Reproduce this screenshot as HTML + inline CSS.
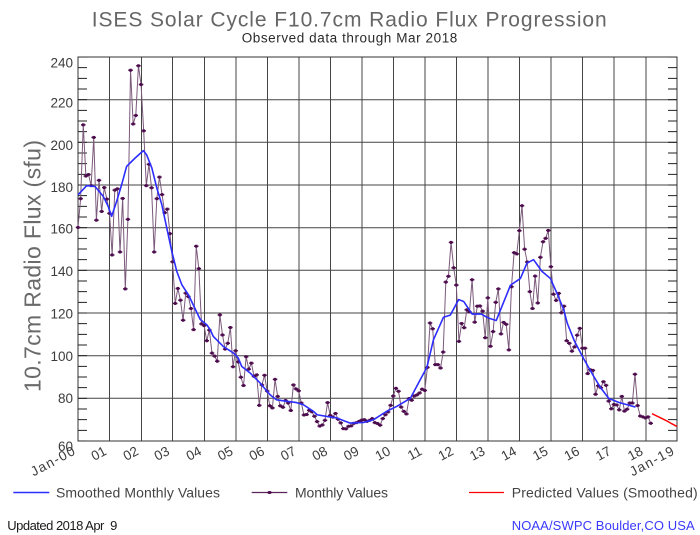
<!DOCTYPE html>
<html><head><meta charset="utf-8"><style>
html,body{margin:0;padding:0;background:#fff;}
svg{display:block;}
text{font-family:"Liberation Sans",Arial,sans-serif;}
</style></head><body>
<svg width="700" height="535" viewBox="0 0 700 535" xmlns="http://www.w3.org/2000/svg">
<rect width="700" height="535" fill="#fff"/>
<defs>
<marker id="mk" markerUnits="userSpaceOnUse" markerWidth="4" markerHeight="4" refX="0" refY="0" overflow="visible">
<rect x="-0.856" y="-0.352" width="1.713" height="0.703" fill="#4d0c4d"/>
<rect x="-0.476" y="-0.703" width="0.952" height="1.406" fill="#4d0c4d"/>
</marker>
</defs>

<!-- titles -->
<text x="91.7" y="26.7" font-size="21" fill="#666" textLength="515" lengthAdjust="spacing">ISES Solar Cycle F10.7cm Radio Flux Progression</text>
<text x="241.7" y="42.3" font-size="13.5" fill="#2a2a2a" textLength="215.6" lengthAdjust="spacing">Observed data through Mar 2018</text>

<!-- grid -->
<g stroke="#444" stroke-width="1" fill="none">
<path d="M109.5 57V441M141.5 57V441M172.5 57V441M204.5 57V441M236 57V441M267.5 57V441M299 57V441M330.5 57V441M362 57V441M393.5 57V441M425 57V441M456.5 57V441M488 57V441M519.5 57V441M551 57V441M582.5 57V441M614 57V441M646 57V441"/>
<path d="M78 99.7H677M78 142.3H677M78 185H677M78 227.7H677M78 270.3H677M78 313H677M78 355.7H677M78 398.3H677"/>
<rect x="78" y="57" width="599" height="384" stroke="#333"/>
</g>
<!-- minor ticks -->
<line x1="82.5" y1="441" x2="82.5" y2="57" stroke="#222" stroke-width="9" stroke-dasharray="1 9.6667" stroke-dashoffset="0.5"/>
<line x1="672.5" y1="441" x2="672.5" y2="57" stroke="#222" stroke-width="9" stroke-dasharray="1 9.6667" stroke-dashoffset="0.5"/>

<!-- y tick labels -->
<g font-size="13.5" fill="#3c3c3c" text-anchor="end">
<text x="73" y="67.3">240</text>
<text x="73" y="107.3">220</text>
<text x="73" y="149.8">200</text>
<text x="73" y="191.8">180</text>
<text x="73" y="233.5">160</text>
<text x="73" y="276">140</text>
<text x="73" y="318.6">120</text>
<text x="73" y="360.8">100</text>
<text x="73" y="403">80</text>
<text x="73" y="450.8">60</text>
</g>

<!-- y axis title -->
<text transform="translate(40.5,266) rotate(-90)" text-anchor="middle" font-size="23" fill="#6a6a6a" textLength="252" lengthAdjust="spacing">10.7cm Radio Flux (sfu)</text>

<!-- x tick labels -->
<g font-size="13.5" fill="#3c3c3c" text-anchor="end">
<text transform="translate(76,454) rotate(-28)" textLength="48" lengthAdjust="spacing">Jan-00</text>
<text transform="translate(107.5,454) rotate(-28)">01</text>
<text transform="translate(139.5,454) rotate(-28)">02</text>
<text transform="translate(170.5,454) rotate(-28)">03</text>
<text transform="translate(202.5,454) rotate(-28)">04</text>
<text transform="translate(234,454) rotate(-28)">05</text>
<text transform="translate(265.5,454) rotate(-28)">06</text>
<text transform="translate(297,454) rotate(-28)">07</text>
<text transform="translate(328.5,454) rotate(-28)">08</text>
<text transform="translate(360,454) rotate(-28)">09</text>
<text transform="translate(391.5,454) rotate(-28)">10</text>
<text transform="translate(423,454) rotate(-28)">11</text>
<text transform="translate(454.5,454) rotate(-28)">12</text>
<text transform="translate(486,454) rotate(-28)">13</text>
<text transform="translate(517.5,454) rotate(-28)">14</text>
<text transform="translate(549,454) rotate(-28)">15</text>
<text transform="translate(580.5,454) rotate(-28)">16</text>
<text transform="translate(612,454) rotate(-28)">17</text>
<text transform="translate(644,454) rotate(-28)">18</text>
<text transform="translate(675,454) rotate(-28)" textLength="48" lengthAdjust="spacing">Jan-19</text>
</g>

<!-- data series -->
<g transform="translate(78,441) scale(2.6272,-2.1333) translate(0,-60)">
<polyline fill="none" stroke="#7b5a7b" stroke-width="1" vector-effect="non-scaling-stroke" points="0,160.1 1,173.6 2,208.2 3,184.2 4,184.9 5,179.7 6,202.3 7,163.5 8,182.2 9,167.6 10,178.8 11,173.4 12,166.7 13,147.2 14,177.6 15,178.2 16,148.6 17,173.7 18,131.3 19,163.9 20,233.8 21,208.6 22,212.6 23,235.9 24,227.1 25,205.4 26,179.7 27,189.7 28,178.7 29,148.6 30,173.6 31,183.7 32,175.5 33,167.0 34,168.7 35,157.2 36,144.0 37,124.5 38,131.5 39,126.0 40,116.6 41,129.3 42,127.7 43,122.1 44,112.2 45,151.3 46,140.8 47,114.9 48,114.1 49,107.0 50,112.0 51,101.2 52,99.8 53,97.4 54,119.1 55,109.7 56,103.1 57,105.8 58,113.2 59,94.8 60,102.3 61,97.1 62,89.9 63,86.0 64,99.5 65,93.7 66,96.5 67,90.3 68,91.0 69,76.7 70,86.3 71,90.8 72,83.4 73,76.5 74,75.5 75,88.9 76,80.9 77,76.5 78,75.8 79,79.0 80,77.8 81,74.3 82,86.3 83,84.4 84,83.5 85,77.8 86,72.2 87,72.4 88,74.4 89,73.7 90,71.6 91,69.1 92,67.0 93,67.5 94,69.7 95,78.0 96,72.0 97,71.2 98,72.9 99,70.2 100,68.5 101,65.8 102,65.7 103,66.9 104,67.1 105,68.3 106,68.6 107,69.2 108,69.8 109,70.0 110,69.2 111,69.7 112,70.5 113,68.6 114,68.2 115,67.4 116,70.5 117,72.3 118,73.6 119,76.7 120,81.1 121,84.7 122,83.3 123,75.9 124,73.9 125,72.7 126,79.9 127,79.1 128,81.1 129,81.6 130,82.5 131,84.3 132,83.7 133,94.5 134,115.3 135,112.6 136,95.8 137,95.8 138,94.2 139,101.7 140,134.5 141,137.2 142,153.1 143,141.2 144,133.1 145,106.7 146,115.1 147,113.1 148,121.5 149,120.5 150,135.6 151,115.7 152,123.2 153,123.3 154,120.9 155,108.4 156,127.1 157,104.4 158,111.3 159,125.0 160,131.3 161,110.2 162,115.6 163,114.7 164,102.7 165,132.3 166,148.3 167,147.7 168,158.6 169,170.3 170,149.9 171,143.9 172,130.0 173,122.1 174,137.3 175,124.7 176,146.1 177,153.4 178,155.0 179,158.7 180,141.7 181,128.8 182,125.9 183,129.2 184,120.1 185,123.2 186,107.0 187,105.8 188,102.1 189,104.1 190,109.6 191,112.8 192,103.5 193,103.5 194,91.6 195,93.4 196,93.1 197,81.9 198,85.9 199,85.0 200,87.8 201,86.1 202,78.7 203,75.1 204,77.1 205,76.9 206,74.6 207,80.9 208,74.0 209,74.9 210,77.8 211,77.8 212,91.3 213,76.6 214,71.7 215,71.3 216,70.8 217,71.3 218,68.3"/>
<polyline fill="none" stroke="none" marker-start="url(#mk)" marker-mid="url(#mk)" marker-end="url(#mk)" points="0,160.1 1,173.6 2,208.2 3,184.2 4,184.9 5,179.7 6,202.3 7,163.5 8,182.2 9,167.6 10,178.8 11,173.4 12,166.7 13,147.2 14,177.6 15,178.2 16,148.6 17,173.7 18,131.3 19,163.9 20,233.8 21,208.6 22,212.6 23,235.9 24,227.1 25,205.4 26,179.7 27,189.7 28,178.7 29,148.6 30,173.6 31,183.7 32,175.5 33,167.0 34,168.7 35,157.2 36,144.0 37,124.5 38,131.5 39,126.0 40,116.6 41,129.3 42,127.7 43,122.1 44,112.2 45,151.3 46,140.8 47,114.9 48,114.1 49,107.0 50,112.0 51,101.2 52,99.8 53,97.4 54,119.1 55,109.7 56,103.1 57,105.8 58,113.2 59,94.8 60,102.3 61,97.1 62,89.9 63,86.0 64,99.5 65,93.7 66,96.5 67,90.3 68,91.0 69,76.7 70,86.3 71,90.8 72,83.4 73,76.5 74,75.5 75,88.9 76,80.9 77,76.5 78,75.8 79,79.0 80,77.8 81,74.3 82,86.3 83,84.4 84,83.5 85,77.8 86,72.2 87,72.4 88,74.4 89,73.7 90,71.6 91,69.1 92,67.0 93,67.5 94,69.7 95,78.0 96,72.0 97,71.2 98,72.9 99,70.2 100,68.5 101,65.8 102,65.7 103,66.9 104,67.1 105,68.3 106,68.6 107,69.2 108,69.8 109,70.0 110,69.2 111,69.7 112,70.5 113,68.6 114,68.2 115,67.4 116,70.5 117,72.3 118,73.6 119,76.7 120,81.1 121,84.7 122,83.3 123,75.9 124,73.9 125,72.7 126,79.9 127,79.1 128,81.1 129,81.6 130,82.5 131,84.3 132,83.7 133,94.5 134,115.3 135,112.6 136,95.8 137,95.8 138,94.2 139,101.7 140,134.5 141,137.2 142,153.1 143,141.2 144,133.1 145,106.7 146,115.1 147,113.1 148,121.5 149,120.5 150,135.6 151,115.7 152,123.2 153,123.3 154,120.9 155,108.4 156,127.1 157,104.4 158,111.3 159,125.0 160,131.3 161,110.2 162,115.6 163,114.7 164,102.7 165,132.3 166,148.3 167,147.7 168,158.6 169,170.3 170,149.9 171,143.9 172,130.0 173,122.1 174,137.3 175,124.7 176,146.1 177,153.4 178,155.0 179,158.7 180,141.7 181,128.8 182,125.9 183,129.2 184,120.1 185,123.2 186,107.0 187,105.8 188,102.1 189,104.1 190,109.6 191,112.8 192,103.5 193,103.5 194,91.6 195,93.4 196,93.1 197,81.9 198,85.9 199,85.0 200,87.8 201,86.1 202,78.7 203,75.1 204,77.1 205,76.9 206,74.6 207,80.9 208,74.0 209,74.9 210,77.8 211,77.8 212,91.3 213,76.6 214,71.7 215,71.3 216,70.8 217,71.3 218,68.3"/>
<polyline fill="none" stroke="#2d2dff" stroke-width="1.6" stroke-linejoin="round" vector-effect="non-scaling-stroke" points="0,175.4 3.3,179.7 6.5,179.3 9.6,174.7 11.5,170 12.8,165.3 14.7,172.3 16.6,180.1 18.5,188.7 21.7,192.6 24.9,196.1 26.1,194.2 28.1,188 30,178.6 31.9,170.8 33.8,159.8 35.7,148.9 37.6,139.5 39.5,133.3 42,128.6 46.5,117 49,114.5 50.3,112.2 51.5,109 55.3,104.3 59.2,101.2 61,98.9 62.3,95 65.5,91.9 69.3,87.2 73.1,81.7 75.6,79.3 79.5,78.6 83.2,78 85.8,77 89.6,73.9 91,72.3 94.7,71.5 98.5,70.8 103.6,68.4 108.7,68.7 112.5,70 117.6,74 121.3,76.2 126.5,80 129.6,87.2 132.8,94.5 135.3,107.5 139.1,118 141.7,119 144.9,126.3 146.8,125.4 150,119.5 153.5,119.5 156.3,117.6 159.2,116.5 164.6,133 168.4,136.2 170.9,143.4 173.4,145 176.6,139.5 179.8,136.2 182.4,129 184.9,121.5 186.2,115.3 188.9,107 192.5,98.5 196.3,90.3 198.9,85 202,80 205.8,78.1 209,77 212.2,75.9"/>
<polyline fill="none" stroke="#ff0000" stroke-width="1.5" vector-effect="non-scaling-stroke" points="218.5,72.8 220,71.9 222,70.7 224,69.5 226,68.1 228,66.8"/>
</g>

<!-- legend -->
<line x1="13.3" y1="492.5" x2="49.3" y2="492.5" stroke="#2d2dff" stroke-width="1.5"/>
<text x="56" y="497.5" font-size="14" fill="#444" textLength="164" lengthAdjust="spacing">Smoothed Monthly Values</text>
<line x1="251.7" y1="492.5" x2="287.3" y2="492.5" stroke="#5a235a" stroke-width="1.2"/>
<rect x="267.3" y="491.7" width="4.5" height="1.6" fill="#4d0c4d"/>
<rect x="268.3" y="491" width="2.5" height="3" fill="#4d0c4d"/>
<text x="295" y="497.5" font-size="14" fill="#444" textLength="93" lengthAdjust="spacing">Monthly Values</text>
<line x1="469" y1="492.5" x2="504" y2="492.5" stroke="#ff0000" stroke-width="1.3"/>
<text x="511.7" y="497.5" font-size="14" fill="#444" textLength="186" lengthAdjust="spacing">Predicted Values (Smoothed)</text>

<!-- footer -->
<text x="7.3" y="530" font-size="13" fill="#1a1a1a" textLength="110" lengthAdjust="spacing" style="white-space:pre" xml:space="preserve">Updated 2018 Apr  9</text>
<text x="511.7" y="530" font-size="13" fill="#3a3aff" textLength="183" lengthAdjust="spacing">NOAA/SWPC Boulder,CO USA</text>
</svg>
</body></html>
